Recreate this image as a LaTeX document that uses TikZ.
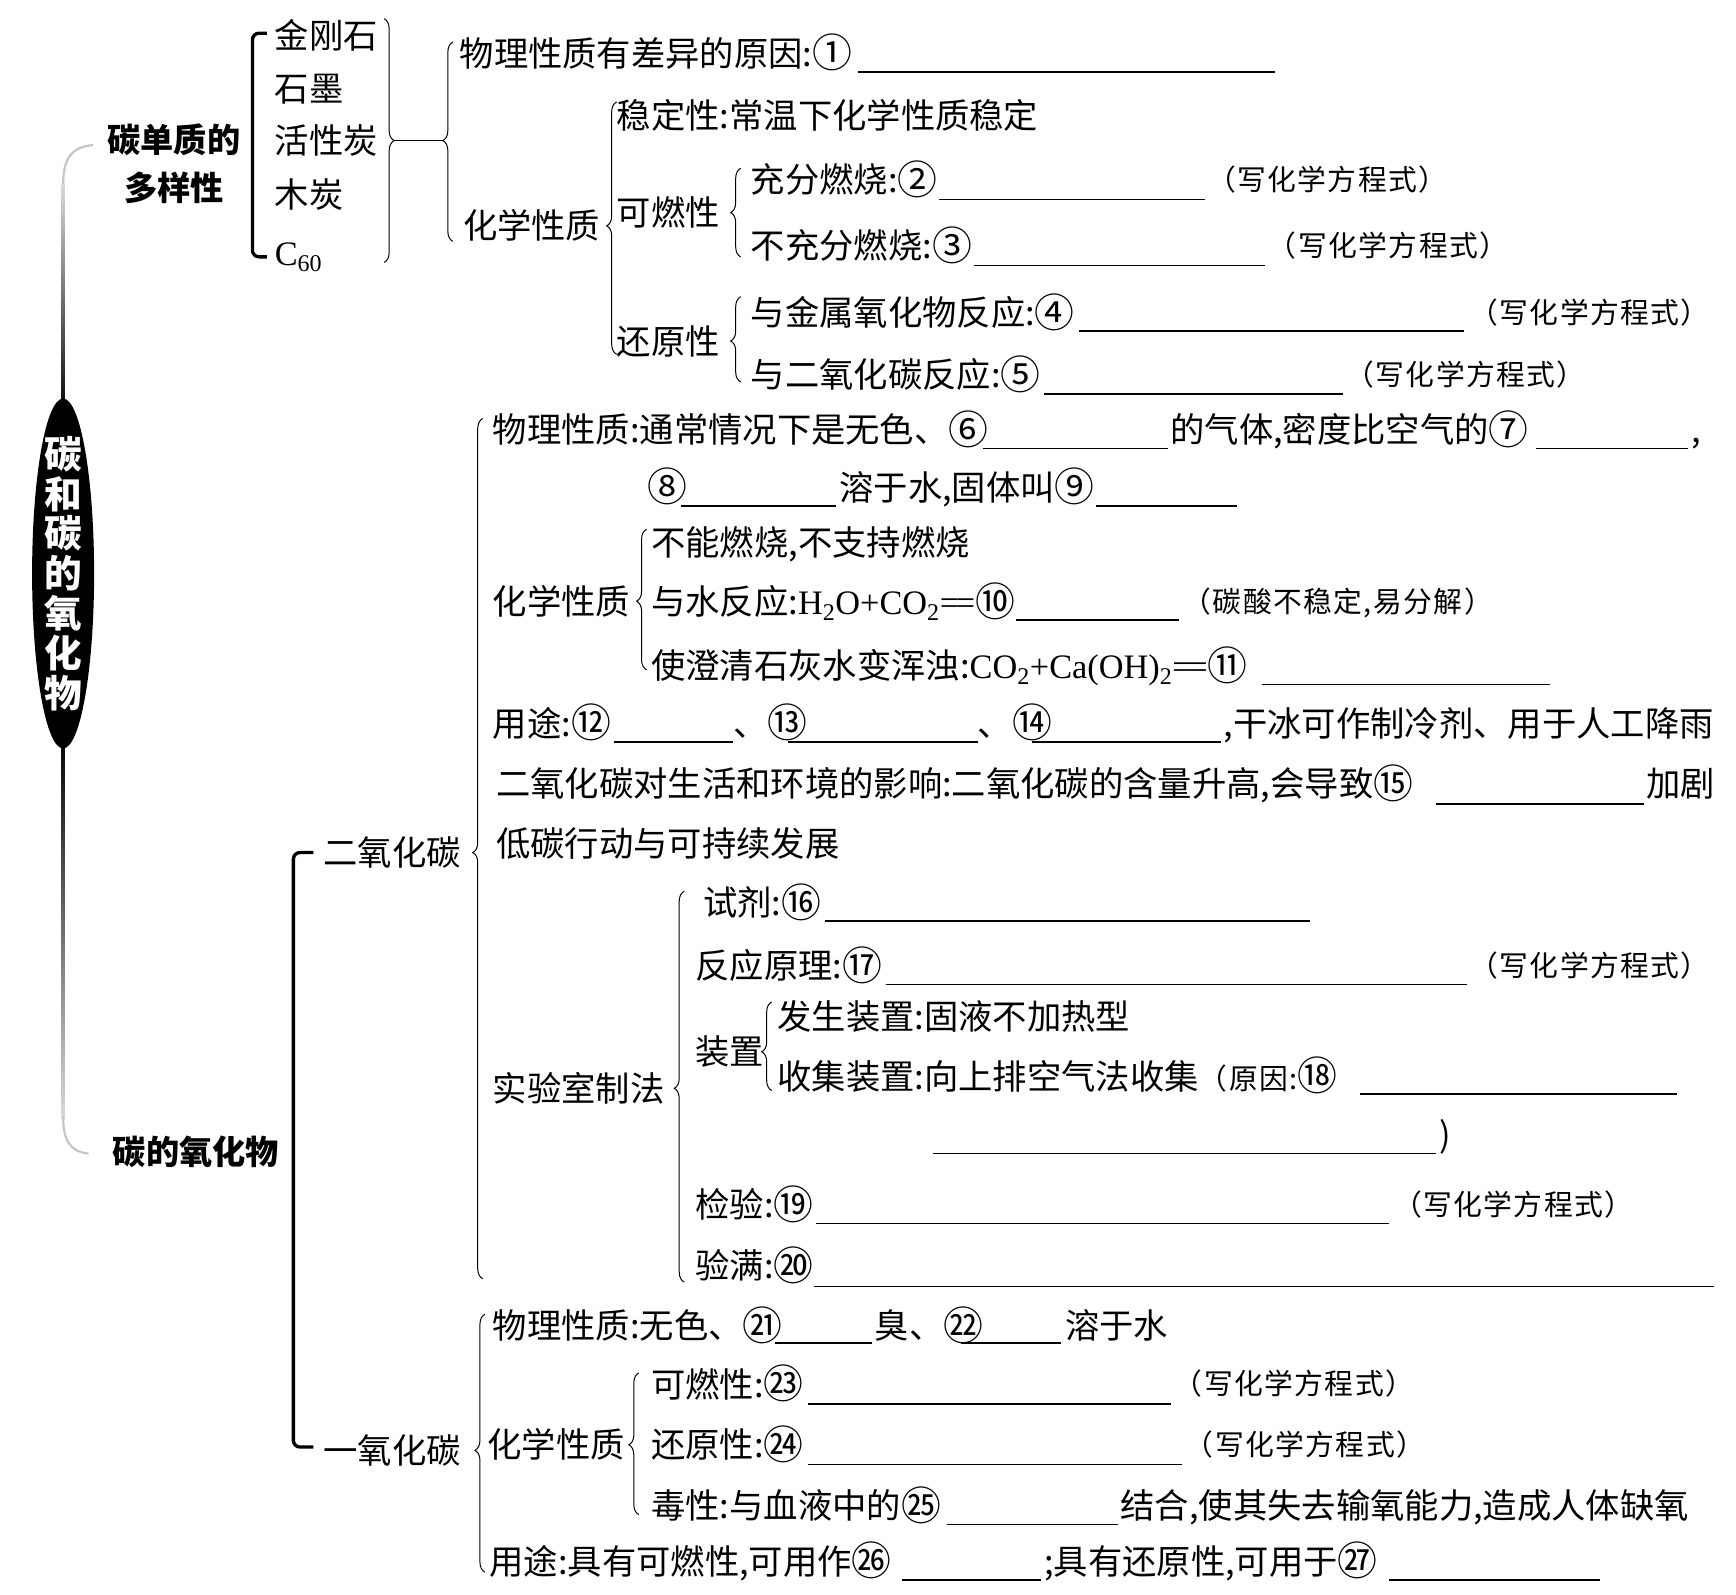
\documentclass[tikz,border=0pt]{standalone}
\usepackage{fontspec}
\setmainfont{Noto Sans CJK SC}
\newfontfamily\latfont{Liberation Serif}
\newfontfamily\notefont[LetterSpace=5]{Noto Sans CJK SC}
\usetikzlibrary{decorations.pathreplacing}
\usetikzlibrary{shapes.geometric}
\newcommand{\circnum}[1]{{\fontsize{36}{36}\selectfont\raisebox{-1.6pt}{#1}}}
\newcommand{\yields}{{\latfont =\kern-3pt=}}

\begin{document}
\begin{tikzpicture}[x=1pt,y=-1pt,
    txt/.style={anchor=west,inner sep=0pt,font=\fontsize{31}{37}\selectfont,
      text height=27.3pt,text depth=3.7pt},
    note/.style={anchor=west,inner sep=0pt,font=\notefont\fontsize{26}{30}\selectfont,
      text height=22.9pt,text depth=3.1pt},
    head/.style={inner sep=0pt,align=center,font=\bfseries\fontsize{30}{43}\selectfont},
    blank/.style={line width=1.3pt},
    brc/.style={decorate,decoration={brace,amplitude=9pt,aspect=#1},line width=0.9pt},
    bar/.style={line width=3pt,rounded corners=6pt}]
  \fill[white] (0,0) rectangle (1568,1440);
  \useasboundingbox (0,0) rectangle (1568,1440);

  % spine and core label
  \coordinate (sp1) at (84,131);
  \coordinate (sp2) at (80,1042);
  \draw[gray!45,line width=2pt] (sp1) .. controls (62,133) and (57,146) .. (57,168);
  \shade[top color=gray!30,bottom color=black] (55.5,167) rectangle (58.5,380);
  \shade[top color=black,bottom color=gray!30] (55.5,660) rectangle (58.5,1010);
  \draw[gray!45,line width=2pt] (57,1008) .. controls (57,1030) and (63,1040) .. (sp2);
  \node[ellipse,fill=black,minimum width=56pt,minimum height=316pt,inner sep=0pt]
    (core) at (57,518) {};
  \node[text=white,inner sep=0pt,align=center,font=\bfseries\fontsize{34}{36}\selectfont]
    (coretxt) at (core) {碳\\和\\碳\\的\\氧\\化\\物};
  \node[head] (elem) at (157,148) {碳单质的\\多样性};
  \node[head] (oxid) at (177,1040) {碳的氧化物};

  % carbon elements
  \draw[bar] (241,30) -- (228,30) -- (228,232) -- (241,232);
  \foreach \n/\t/\y in {dia/金刚石/32, gra/石墨/80, act/活性炭/127, chr/木炭/176}
    \node[txt] (\n) at (248,\y) {\t};
  \node[txt] (cso) at (248,228) {\latfont C\textsubscript{60}};
  \draw[brc=0.5] (347,17) -- (347,237);
  \coordinate (kt) at (356,127);
  \coordinate (ct) at (400,127);
  \draw[line width=0.9pt] (kt) -- (ct);

  \node[txt] (phy1) at (415,48) {物理性质有差异的原因:\circnum{①}};
  \node[txt] (chem1) at (418,204) {化学性质};
  \node[txt] (stab) at (557,104) {稳定性:常温下化学性质稳定};
  \node[txt] (comb) at (557,192) {可燃性};
  \node[txt] (redu) at (557,308) {还原性};
  \node[txt] (full) at (678,162) {充分燃烧:\circnum{②}};
  \node[txt] (part) at (678,222) {不充分燃烧:\circnum{③}};
  \node[txt] (redm) at (678,282) {与金属氧化物反应:\circnum{④}};
  \node[txt] (redc) at (678,338) {与二氧化碳反应:\circnum{⑤}};

  % carbon oxides
  \draw[bar] (283,770) -- (265,770) -- (265,1307) -- (283,1307);
  \node[txt] (co2) at (292,770) {二氧化碳};
  \node[txt] (co) at (292,1310) {一氧化碳};

  \node[txt] (p2a) at (445,388) {物理性质:通常情况下是无色、\circnum{⑥}};
  \node[txt] (p2b) at (1057,388) {的气体,密度比空气的\circnum{⑦}};
  \node[txt] (p2c) at (1528,388) {,};
  \node[txt] (p2d) at (585,440) {\circnum{⑧}};
  \node[txt] (p2e) at (758,440) {溶于水,固体叫\circnum{⑨}};
  \node[txt] (c2) at (445,543) {化学性质};
  \node[txt] (c2a) at (588,490) {不能燃烧,不支持燃烧};
  \node[txt] (c2b) at (588,543)
    {与水反应:{\latfont H\textsubscript{2}O+CO\textsubscript{2}}\yields\circnum{⑩}};
  \node[note] (c2n) at (1068,543) {（碳酸不稳定,易分解）};
  \node[txt] (c2c) at (588,601)
    {使澄清石灰水变浑浊:{\latfont CO\textsubscript{2}+Ca(OH)\textsubscript{2}}\yields\circnum{⑪}};
  \node[txt] (u2a) at (445,653) {用途:\circnum{⑫}};
  \node[txt] (u2b) at (662,653) {、\circnum{⑬}};
  \node[txt] (u2c) at (883,653) {、\circnum{⑭}};
  \node[txt] (u2d) at (1105,653) {,干冰可作制冷剂、用于人工降雨};
  \node[txt] (env) at (448,708)
    {二氧化碳对生活和环境的影响:二氧化碳的含量升高,会导致\circnum{⑮}};
  \node[txt] (envb) at (1487,708) {加剧};
  \node[txt] (low) at (448,762) {低碳行动与可持续发展};
  \node[txt] (lab) at (445,983) {实验室制法};
  \node[txt] (reag) at (635,815) {试剂:\circnum{⑯}};
  \node[txt] (prin) at (628,872) {反应原理:\circnum{⑰}};
  \node[txt] (appa) at (628,950) {装置};
  \node[txt] (gen) at (702,918) {发生装置:固液不加热型};
  \node[txt] (col) at (702,972)
    {收集装置:向上排空气法收集{\notefont\fontsize{26}{30}\selectfont （原因:}\circnum{⑱}};
  \node[txt] (colr) at (1300,1025) {)};
  \node[txt] (test) at (628,1088) {检验:\circnum{⑲}};
  \node[txt] (fill) at (628,1143) {验满:\circnum{⑳}};

  \node[txt] (p3a) at (445,1197) {物理性质:无色、\circnum{㉑}};
  \node[txt] (p3b) at (790,1197) {臭、\circnum{㉒}};
  \node[txt] (p3c) at (962,1197) {溶于水};
  \node[txt] (c3) at (440,1305) {化学性质};
  \node[txt] (c3a) at (588,1250) {可燃性:\circnum{㉓}};
  \node[txt] (c3b) at (588,1305) {还原性:\circnum{㉔}};
  \node[txt] (c3c) at (588,1360) {毒性:与血液中的\circnum{㉕}};
  \node[txt] (c3d) at (1012,1360) {结合,使其失去输氧能力,造成人体缺氧};
  \node[txt] (u3a) at (442,1410) {用途:具有可燃性,可用作\circnum{㉖}};
  \node[txt] (u3b) at (943,1410) {;具有还原性,可用于\circnum{㉗}};

  % equation hints
  \foreach \x/\y in {1090/162, 1145/222, 1327/282, 1215/338, 1327/872,
      1258/1088, 1060/1250, 1070/1305}
    \node[note] (eq\y) at (\x,\y) {（写化学方程式）};

  % left braces: end x / top / tip / bottom
  \foreach \xe/\yt/\yp/\yb in {409/38/127/218, 557/92/204/320, 669/152/192/232,
      669/268/308/345, 436/378/770/1155, 584/478/543/605, 618/805/983/1158,
      697/905/950/985, 438/1187/1310/1420, 577/1240/1305/1368}{
    \pgfmathsetmacro\asp{(\yb-\yp)/(\yb-\yt)}
    \draw[brc=\asp] (\xe,\yb) -- (\xe,\yt);}

  % blanks
  \foreach \a/\b/\y in {775/1152/65, 848/1088/180, 880/1143/240, 975/1322/299,
      943/1213/356, 888/1055/405, 1387/1525/405, 615/755/457, 990/1117/457,
      918/1065/560, 1140/1400/618, 555/662/670, 712/883/670, 932/1103/670,
      1297/1485/726, 745/1183/832, 800/1325/889, 1228/1515/988, 843/1297/1042,
      737/1255/1105, 735/1548/1162, 700/788/1213, 868/958/1213, 730/1058/1268,
      730/1068/1323, 855/1010/1377, 815/940/1427, 1255/1445/1427}
    \draw[blank] (\a,\y) -- (\b,\y);
\end{tikzpicture}
\end{document}
